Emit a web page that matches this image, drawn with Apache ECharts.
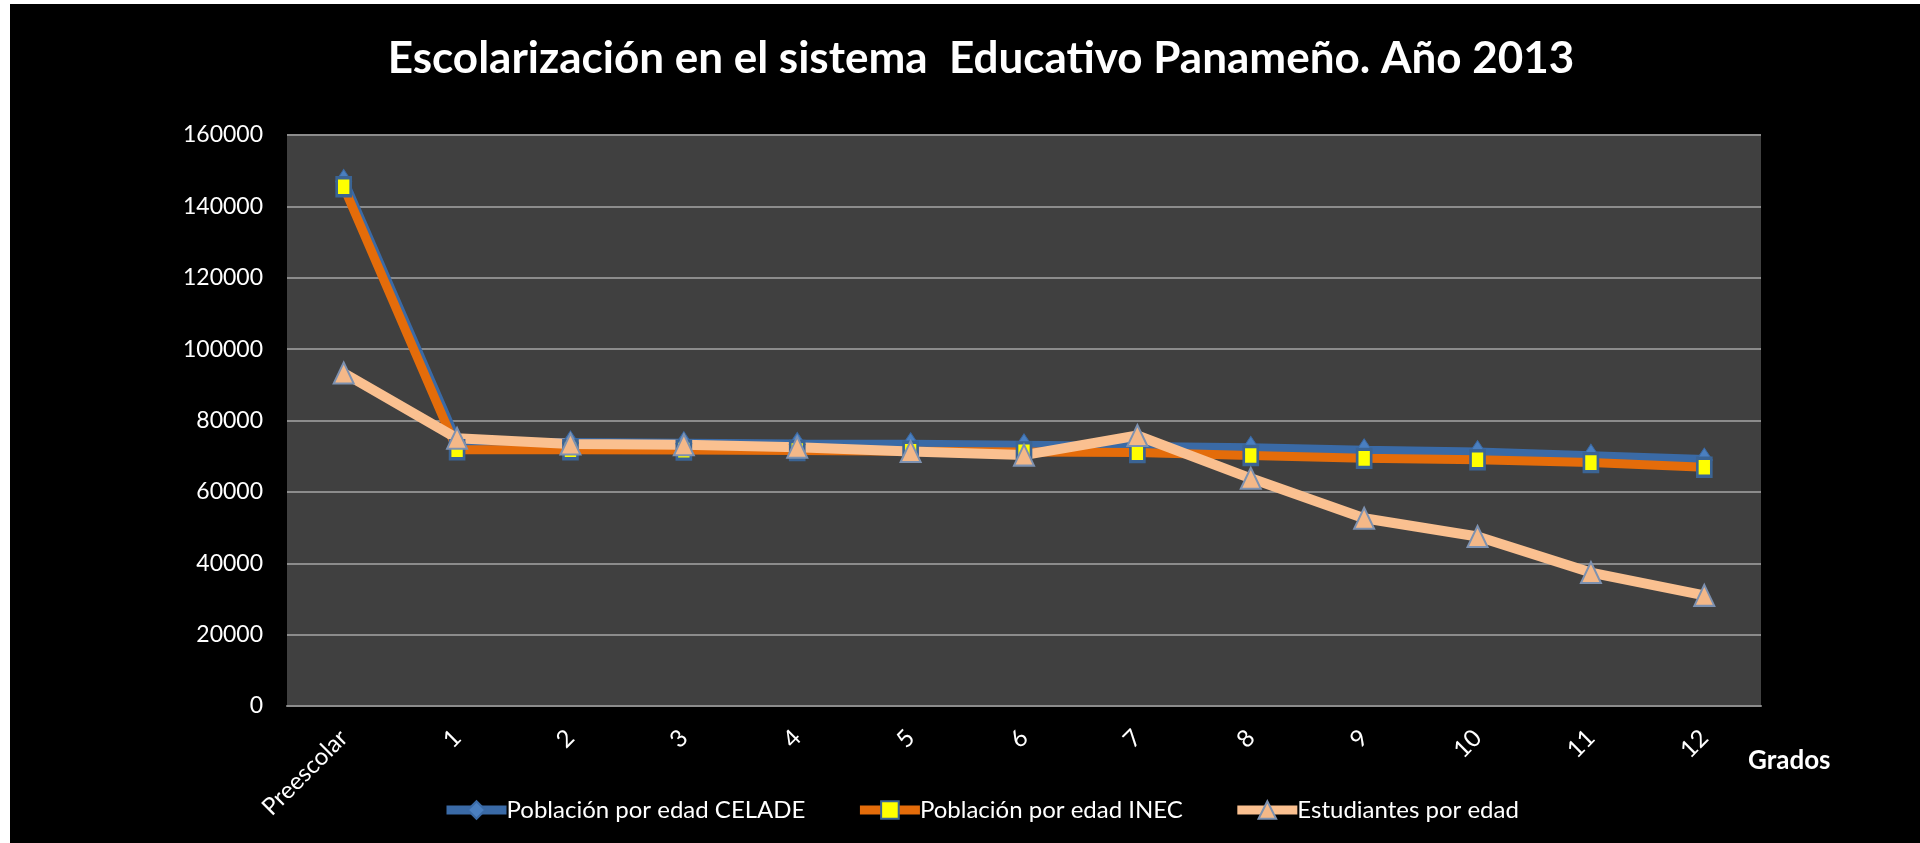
<!DOCTYPE html>
<html>
<head>
<meta charset="utf-8">
<script src="https://cdn.jsdelivr.net/npm/echarts@6/dist/echarts.min.js"></script>
<style>
html,body{margin:0;padding:0;background:#ffffff;width:1920px;height:843px;overflow:hidden;}
#c{position:absolute;left:10px;top:4px;width:1910px;height:839px;background:#000;}
</style>
</head>
<body>
<div id="c"></div>
<script>
const titleText = 'Escolarización en el sistema  Educativo Panameño. Año 2013';
const categories = ['Preescolar','1','2','3','4','5','6','7','8','9','10','11','12'];
const celade = [147000, 73800, 73700, 73500, 73300, 73200, 72900, 72600, 72200, 71500, 71000, 70000, 68900];
const inec = [145500, 71800, 71800, 71700, 71600, 71400, 71200, 71000, 70200, 69400, 69000, 68200, 66900];
const estudiantes = [93300, 75000, 73400, 73200, 72500, 71300, 70300, 75800, 63800, 52600, 47500, 37400, 31000];
const seriesNames = ['Población por edad CELADE','Población por edad INEC','Estudiantes por edad'];
const xAxisName = 'Grados';

const FONT = 'Lato, "Open Sans", sans-serif';
const chart = echarts.init(document.getElementById('c'));
chart.setOption({
  backgroundColor: '#000000',
  animation: false,
  title: {
    text: titleText,
    left: 966, top: 28, textAlign: 'center',
    textStyle: {color:'#ffffff', fontFamily: FONT, fontWeight:'bold', fontSize: 44}
  },
  grid: {left: 277, right: 159, top: 131, bottom: 137, show: true, backgroundColor:'#404040', borderWidth:0},
  legend: {
    left: 427, top: 789, itemWidth: 60, itemHeight: 22, itemGap: 50,
    textStyle: {color:'#ffffff', fontFamily: FONT, fontSize: 24, padding:[0,0,0,-5]},
    lineStyle: {width: 9},
    data: seriesNames
  },
  graphic: [{
    type:'text', left: 1738, top: 744,
    style:{text: xAxisName, fill:'#ffffff', font:'bold 26px ' + FONT}
  }],
  xAxis: {
    type:'category', data: categories, boundaryGap: true,
    axisLine: {show:true, lineStyle:{color:'#8c8c8c', width:2}},
    axisTick: {show:false},
    axisLabel: {color:'#ffffff', fontFamily: FONT, fontSize: 24, rotate: 45, margin: 28, interval: 0}
  },
  yAxis: {
    type:'value', min: 0, max: 160000, interval: 20000,
    axisLine: {show:false}, axisTick:{show:false},
    splitLine: {lineStyle:{color:'#8c8c8c', width:2}},
    axisLabel: {color:'#ffffff', fontFamily: FONT, fontSize: 23, margin: 24, formatter: v => String(v)}
  },
  series: [
    {
      name: seriesNames[0], type:'line', data: celade,
      symbol:'diamond', symbolSize:[16,24],
      lineStyle:{color:'#3a6aa6', width:10},
      itemStyle:{color:'#4a7fc0', borderColor:'#3a6aa6', borderWidth:1}
    },
    {
      name: seriesNames[1], type:'line', data: inec,
      symbol:'rect', symbolSize:[14,18],
      lineStyle:{color:'#e46c0a', width:9},
      itemStyle:{color:'#ffff00', borderColor:'#3b6494', borderWidth:3}
    },
    {
      name: seriesNames[2], type:'line', data: estudiantes,
      symbol:'triangle', symbolSize:[20,21],
      lineStyle:{color:'#fac090', width:10},
      itemStyle:{color:'#f4b888', borderColor:'#7d91b0', borderWidth:2}
    }
  ]
});
</script>
</body>
</html>
